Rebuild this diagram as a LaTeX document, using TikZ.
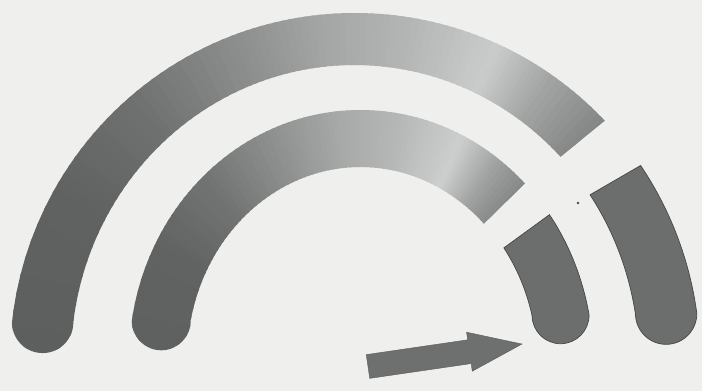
\documentclass[tikz,border=0pt]{standalone}
\usetikzlibrary{calc}
\definecolor{bg}{HTML}{EFEFED}
\definecolor{piece}{HTML}{6B6E6C}
\definecolor{edge}{HTML}{454846}
\definecolor{arrowc}{HTML}{6E706F}
% outer arc colour stops
\definecolor{oA}{HTML}{5B5E5C}% 180
\definecolor{oB}{HTML}{5F6260}% 150
\definecolor{oC}{HTML}{6E716F}% 130
\definecolor{oD}{HTML}{8B8E8C}% 110
\definecolor{oE}{HTML}{A3A6A4}% 95
\definecolor{oF}{HTML}{B3B6B4}% 80
\definecolor{oG}{HTML}{CACCCB}% 65
\definecolor{oH}{HTML}{A2A5A3}% 55
\definecolor{oI}{HTML}{7B7E7C}% 43
% inner arc colour stops
\definecolor{iA}{HTML}{5D605E}
\definecolor{iB}{HTML}{606361}
\definecolor{iC}{HTML}{717472}
\definecolor{iD}{HTML}{8F9290}
\definecolor{iE}{HTML}{A6A9A7}
\definecolor{iF}{HTML}{B6B8B7}
\definecolor{iG}{HTML}{CDCFCE}
\definecolor{iH}{HTML}{9FA2A0}
\definecolor{iI}{HTML}{717472}
\tikzset{
  piecestyle/.style={fill=piece, draw=edge, line width=0.7pt},
  arrowstyle/.style={fill=arrowc, draw=arrowc!80!black, line width=0.4pt},
}
\begin{document}
\begin{tikzpicture}[x=1pt,y=1pt]
\useasboundingbox (0,0) rectangle (702,391);
\fill[bg] (0,0) rectangle (702,391);

\coordinate (O1) at (355,31);
\coordinate (O2) at (361,31);

\begin{scope}[rotate around={0.8:(357,31)}]
  % ---------- outer arc, main part ----------
  \begin{scope}
    \clip ($(O1)+(42.8:345 and 347)$)
      arc[start angle=42.8, end angle=173.05, x radius=345, y radius=347]
      arc[start angle=180, end angle=360, radius=30.68]
      arc[start angle=171.81, end angle=42.8, x radius=284, y radius=295]
      -- cycle;
    \begin{scope}[shift={(O1)}]
      \foreach \a/\b/\ca/\cb in {40/55/oI/oH, 55/65/oH/oG, 65/80/oG/oF, 80/95/oF/oE,
                                 95/110/oE/oD, 110/130/oD/oC, 130/150/oC/oB, 150/186/oB/oA}{
        \foreach \i in {0,...,11}{
          \pgfmathsetmacro\tA{\a+(\b-\a)*\i/12-0.3}
          \pgfmathsetmacro\tB{\a+(\b-\a)*(\i+1)/12+0.3}
          \pgfmathtruncatemacro\p{100*(\i+0.5)/12}
          \fill[fill=\cb!\p!\ca] (0,0) -- (\tA:420) -- (\tB:420) -- cycle;
        }
      }
    \end{scope}
  \end{scope}
  % ---------- outer arc, right piece ----------
  \path[piecestyle] ($(O1)+(33.3:345 and 347)$)
    arc[start angle=33.3, end angle=6.95, x radius=345, y radius=347]
    arc[start angle=0, end angle=-180, radius=30.68]
    arc[start angle=8.19, end angle=33.3, x radius=284, y radius=295]
    -- cycle;

  % ---------- inner arc, main part ----------
  \begin{scope}
    \clip ($(O2)+(44.2:232 and 250)$)
      arc[start angle=44.2, end angle=170.33, x radius=232, y radius=250]
      arc[start angle=180, end angle=360, radius=29.5]
      arc[start angle=167.43, end angle=44.2, x radius=174, y radius=193]
      -- cycle;
    \begin{scope}[shift={(O2)}]
      \foreach \a/\b/\ca/\cb in {40/55/iI/iH, 55/65/iH/iG, 65/80/iG/iF, 80/95/iF/iE,
                                 95/110/iE/iD, 110/130/iD/iC, 130/150/iC/iB, 150/186/iB/iA}{
        \foreach \i in {0,...,11}{
          \pgfmathsetmacro\tA{\a+(\b-\a)*\i/12-0.3}
          \pgfmathsetmacro\tB{\a+(\b-\a)*(\i+1)/12+0.3}
          \pgfmathtruncatemacro\p{100*(\i+0.5)/12}
          \fill[fill=\cb!\p!\ca] (0,0) -- (\tA:420) -- (\tB:420) -- cycle;
        }
      }
    \end{scope}
  \end{scope}
  % ---------- inner arc, right piece ----------
  \path[piecestyle] ($(O2)+(34.8:232 and 250)$)
    arc[start angle=34.8, end angle=9.67, x radius=232, y radius=250]
    arc[start angle=0, end angle=-180, radius=28.5]
    arc[start angle=12.57, end angle=34.8, x radius=176, y radius=193]
    -- cycle;
\end{scope}

% small speck
\fill[edge] (578,188) circle[radius=1.3];

% ---------- arrow ----------
\begin{scope}[shift={(368,24.5)}, rotate=8.3]
  \path[arrowstyle] (0,-12) -- (102.5,-12) -- (102.5,-19.7) -- (155.6,0)
    -- (102.5,19.7) -- (102.5,12) -- (0,12) -- cycle;
\end{scope}
\end{tikzpicture}
\end{document}
